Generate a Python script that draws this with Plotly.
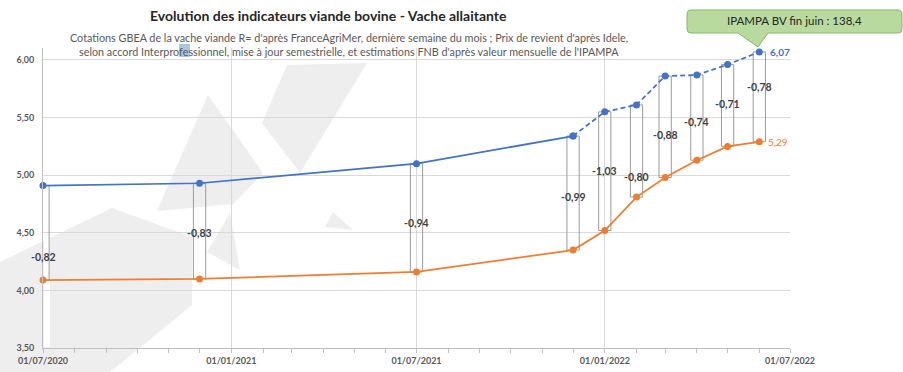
import plotly.graph_objects as go

# ---------------- data ----------------
dates = ["2020-07-01", "2020-12-01", "2021-07-01", "2021-12-01", "2022-01-01",
         "2022-02-01", "2022-03-01", "2022-04-01", "2022-05-01", "2022-06-01"]
prix_revient = [4.91, 4.93, 5.10, 5.34, 5.55, 5.61, 5.86, 5.87, 5.96, 6.07]   # blue
cotation = [4.09, 4.10, 4.16, 4.35, 4.52, 4.81, 4.98, 5.13, 5.25, 5.29]        # orange
n_solid = 4  # blue line solid up to Dec 2021, dashed (estimations) after
y_ticks = [3.5, 4.0, 4.5, 5.0, 5.5, 6.0]

title = "<b>Evolution des indicateurs viande bovine - Vache allaitante</b>"
subtitle1 = "Cotations GBEA de la vache viande R= d'après FranceAgriMer, dernière semaine du mois ; Prix de revient d'après Idele,"
subtitle2 = "selon accord Interprofessionnel, mise à jour semestrielle, et estimations FNB d'après valeur mensuelle de l'IPAMPA"
callout_text = "IPAMPA BV fin juin : 138,4"

# ---------------- style ----------------
FONT = "Lato"
BLUE = "#4472C4"
ORANGE = "#ED7D31"
W, H = 903, 372
PL, PR, PT, PB = 43, 790, 48, 348
label_yshift = [-24, -2, -5, -4, 0, -26, -8, -4, 1, 10]

def px(x):
    return (x - PL) / (PR - PL)

def py(y):
    return (PB - y) / (PB - PT)

def fmt(v):
    return f"{v:.2f}".replace(".", ",")

diffs = [c - p for c, p in zip(cotation, prix_revient)]
DAY_MS = 86400000

fig = go.Figure()

# up-down bars (outline only) between the two series
fig.add_trace(go.Bar(
    x=dates, y=[p - c for p, c in zip(prix_revient, cotation)], base=cotation,
    width=12 * DAY_MS, marker=dict(color="rgba(0,0,0,0)", line=dict(color="#9a9a9a", width=1)),
    hoverinfo="skip", showlegend=False))

fig.add_trace(go.Scatter(
    x=dates, y=cotation, mode="lines+markers",
    line=dict(color=ORANGE, width=1.75), marker=dict(size=7, color=ORANGE),
    cliponaxis=False, showlegend=False))

fig.add_trace(go.Scatter(
    x=dates[:n_solid], y=prix_revient[:n_solid], mode="lines+markers",
    line=dict(color=BLUE, width=1.75), marker=dict(size=7, color=BLUE),
    cliponaxis=False, showlegend=False))
fig.add_trace(go.Scatter(
    x=dates[n_solid - 1:], y=prix_revient[n_solid - 1:], mode="lines+markers",
    line=dict(color=BLUE, width=1.75, dash="5px,3px"), marker=dict(size=7, color=BLUE),
    cliponaxis=False, showlegend=False))

annotations = []
for d, p, c, df, ys in zip(dates, prix_revient, cotation, diffs, label_yshift):
    annotations.append(dict(
        x=d, y=(p + c) / 2, xref="x", yref="y", text=fmt(df), showarrow=False,
        yshift=ys, font=dict(family=FONT, size=10.5, color="#404040", weight="bold")))

annotations.append(dict(x=dates[-1], y=prix_revient[-1], text=fmt(prix_revient[-1]),
                        xanchor="left", xshift=9, showarrow=False,
                        font=dict(family=FONT, size=10, color=BLUE, weight="bold")))
annotations.append(dict(x=dates[-1], y=cotation[-1], text=fmt(cotation[-1]),
                        xanchor="left", xshift=7, showarrow=False,
                        font=dict(family=FONT, size=10, color=ORANGE)))

# titles
annotations.append(dict(x=px(328), y=py(16), xref="paper", yref="paper", text=title,
                        showarrow=False, xanchor="center", yanchor="middle",
                        font=dict(family=FONT, size=14, color="#262626")))
annotations.append(dict(x=px(349), y=py(37), xref="paper", yref="paper", text=subtitle1,
                        showarrow=False, xanchor="center", yanchor="middle",
                        font=dict(family=FONT, size=10.8, color="#595959")))
annotations.append(dict(x=px(349), y=py(51), xref="paper", yref="paper", text=subtitle2,
                        showarrow=False, xanchor="center", yanchor="middle",
                        font=dict(family=FONT, size=10.8, color="#595959")))
annotations.append(dict(x=px(794), y=py(20), xref="paper", yref="paper", text=callout_text,
                        showarrow=False, xanchor="center", yanchor="middle",
                        font=dict(family=FONT, size=11.5, color="#262626")))

shapes = []

def poly(points, color="#eeeeee"):
    path = "M " + " L ".join(f"{px(x):.5f},{py(y):.5f}" for x, y in points) + " Z"
    return dict(type="path", path=path, xref="paper", yref="paper",
                fillcolor=color, line=dict(width=0), layer="below")

# watermark
shapes.append(poly([(0, 262), (112, 208), (192, 237), (192, 305), (110, 372), (0, 372)]))
shapes.append(poly([(208, 95), (157, 211), (233, 204), (263, 173)]))
shapes.append(poly([(207, 252), (230, 213), (240, 270)]))
shapes.append(poly([(287, 65), (367, 63), (300, 173), (262, 123)]))
shapes.append(poly([(325, 227), (333, 212), (353, 230)]))
shapes.append(poly([(44, 233), (50, 233), (50, 347), (44, 347)], "#ffffff"))

# callout box
x0, x1, y0, y1, r = 687, 902, 10, 33, 4
def P(x, y):
    return f"{px(x):.5f},{py(y):.5f}"
path = (f"M {P(x0 + r, y0)} L {P(x1 - r, y0)} Q {P(x1, y0)} {P(x1, y0 + r)} "
        f"L {P(x1, y1 - r)} Q {P(x1, y1)} {P(x1 - r, y1)} L {P(768, y1)} L {P(758, 47)} "
        f"L {P(738, y1)} L {P(x0 + r, y1)} Q {P(x0, y1)} {P(x0, y1 - r)} "
        f"L {P(x0, y0 + r)} Q {P(x0, y0)} {P(x0 + r, y0)} Z")
shapes.append(dict(type="path", path=path, xref="paper", yref="paper",
                   fillcolor="#b8da9f", line=dict(color="#86b866", width=1), layer="above"))

# selection highlight in subtitle
shapes.append(dict(type="rect", xref="paper", yref="paper", x0=px(179), x1=px(190),
                   y0=py(57), y1=py(44), fillcolor="#a9c8e0", line=dict(width=0), layer="below"))

fig.update_layout(
    width=W, height=H,
    margin=dict(l=PL, r=W - PR, t=PT, b=H - PB, autoexpand=False),
    paper_bgcolor="white", plot_bgcolor="rgba(0,0,0,0)",
    separators=", ",
    barmode="overlay",
    font=dict(family=FONT),
    annotations=annotations, shapes=shapes,
    showlegend=False,
)
fig.update_xaxes(
    type="date", range=["2020-07-01", "2022-07-01"], automargin=False,
    tickformat="%d/%m/%Y", dtick="M6", tick0="2020-07-01",
    showgrid=True, gridcolor="#d9d9d9", gridwidth=1,
    showline=True, linecolor="#bfbfbf", linewidth=1,
    ticks="outside", ticklen=4, tickcolor="#bfbfbf",
    minor=dict(dtick="M1", ticks="outside", ticklen=4, tickcolor="#bfbfbf", showgrid=False),
    tickfont=dict(family=FONT, size=9, color="#595959", weight="bold"),
    zeroline=False,
)
fig.update_yaxes(
    range=[3.5, 6.104], tickvals=y_ticks, tickformat=".2f", automargin=False,
    showgrid=True, gridcolor="#d9d9d9", gridwidth=1,
    showline=True, linecolor="#bfbfbf", linewidth=1,
    ticks="", ticklabelstandoff=6,
    tickfont=dict(family=FONT, size=9, color="#595959", weight="bold"),
    zeroline=False,
)

fig.write_html("out.html", config={"displayModeBar": False},
               post_script="document.body.style.margin='0px';")
